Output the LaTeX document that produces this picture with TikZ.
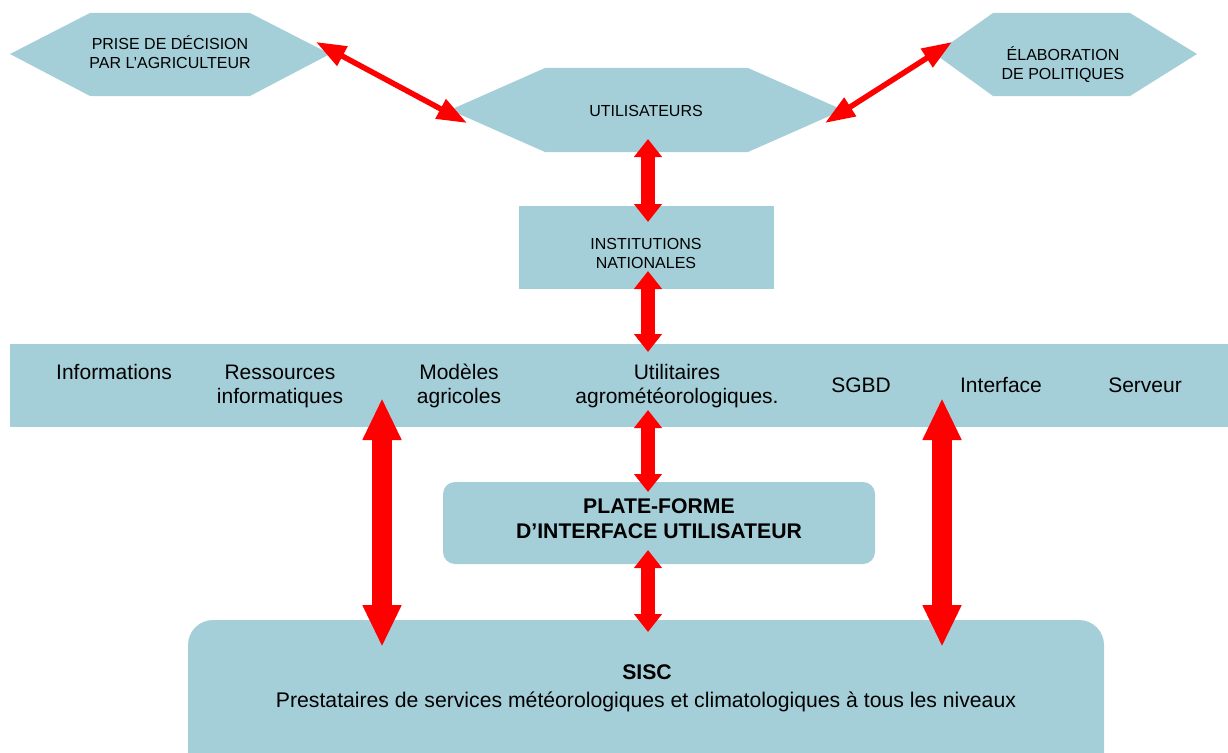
\documentclass[tikz,border=0pt]{standalone}
\usepackage{fontspec}
\setmainfont{Liberation Sans}
\usetikzlibrary{arrows.meta,calc}
\definecolor{boxblue}{RGB}{165,207,216}
\definecolor{arrred}{RGB}{255,0,0}
\begin{document}
\begin{tikzpicture}[x=1pt,y=-1pt,
  lbl/.style={align=center,inner sep=0pt,text=black,anchor=base},
  small/.style={lbl,font=\fontsize{16}{19}\selectfont},
  bandtxt/.style={lbl,font=\fontsize{21}{24}\selectfont},
  boldtxt/.style={lbl,font=\fontsize{21.2}{25}\selectfont\bfseries},
  hexfill/.style={fill=boxblue},
  bigarrow/.style={draw=arrred,line width=20pt,{Triangle[width=36pt,length=42pt]}-{Triangle[width=36pt,length=42pt]}},
  midarrow/.style={draw=arrred,line width=14pt,{Triangle[width=27pt,length=18pt]}-{Triangle[width=27pt,length=18pt]}},
  thinarrow/.style={draw=arrred,line width=5.5pt,{Triangle[width=21pt,length=30pt]}-{Triangle[width=21pt,length=30pt]}},
]
\useasboundingbox (0,0) rectangle (1228,752);
\clip (0,0) rectangle (1228,752);

% shapes
\fill[hexfill] (10,54) -- (90,13) -- (250,13) -- (330,54) -- (250,96) -- (90,96) -- cycle;
\fill[hexfill] (935,54) -- (993,13) -- (1130,13) -- (1197,54) -- (1130,96) -- (993,96) -- cycle;
\fill[hexfill] (450,110) -- (545,68) -- (748,68) -- (843,110) -- (748,152) -- (545,152) -- cycle;
\fill[boxblue] (519,206) rectangle (774,289);
\fill[boxblue] (10,344) rectangle (1228,427);
\fill[boxblue,rounded corners=12pt] (443,482) rectangle (875,564);
\fill[boxblue,rounded corners=25pt] (188,620) rectangle (1104,780);

% texts
\node[small] (agri) at (170,50) {PRISE DE DÉCISION};
\node[small] (agri2) at (170,69) {PAR L’AGRICULTEUR};
\node[small] (poli) at (1063,60) {ÉLABORATION};
\node[small] (poli2) at (1063,79) {DE POLITIQUES};
\node[small] (util) at (646,116) {UTILISATEURS};
\node[small] (inst) at (646,249) {INSTITUTIONS};
\node[small] (inst2) at (646,268) {NATIONALES};

\node[bandtxt] (b1) at (114,379) {Informations};
\node[bandtxt] (b2) at (280,379) {Ressources};
\node[bandtxt] (b2b) at (280,403) {informatiques};
\node[bandtxt] (b3) at (459,379) {Modèles};
\node[bandtxt] (b3b) at (459,403) {agricoles};
\node[bandtxt] (b4) at (677,379) {Utilitaires};
\node[bandtxt] (b4b) at (677,403) {agrométéorologiques.};
\node[bandtxt] (b5) at (861,392) {SGBD};
\node[bandtxt] (b6) at (1001,392) {Interface};
\node[bandtxt] (b7) at (1145,392) {Serveur};

\node[boldtxt] (plat) at (659,513) {PLATE-FORME};
\node[boldtxt] (plat2) at (659,538) {D’INTERFACE UTILISATEUR};
\node[boldtxt] (sisc) at (647,679) {SISC};
\node[lbl,font=\fontsize{21.2}{24}\selectfont] (sisc2) at (646,707) {Prestataires de services météorologiques et climatologiques à tous les niveaux};

% arrow end points
\coordinate (dl1) at (316,42);
\coordinate (dl2) at (467,123);
\coordinate (dr1) at (825,123);
\coordinate (dr2) at (952,42);
\coordinate (u1) at (648,139);
\coordinate (u2) at (648,222);
\coordinate (i1) at (648,271);
\coordinate (i2) at (648,352);
\coordinate (p1) at (648,410);
\coordinate (p2) at (648,492);
\coordinate (s1) at (648,550);
\coordinate (s2) at (648,632);
\coordinate (L1) at (382,398);
\coordinate (L2) at (382,647);
\coordinate (R1) at (942,398);
\coordinate (R2) at (942,647);

% arrows
\draw[thinarrow] (dl1) -- (dl2);
\draw[thinarrow] (dr1) -- (dr2);
\draw[midarrow] (u1) -- (u2);
\draw[midarrow] (i1) -- (i2);
\draw[midarrow] (p1) -- (p2);
\draw[midarrow] (s1) -- (s2);
\draw[bigarrow] (L1) -- (L2);
\draw[bigarrow] (R1) -- (R2);
\end{tikzpicture}
\end{document}
